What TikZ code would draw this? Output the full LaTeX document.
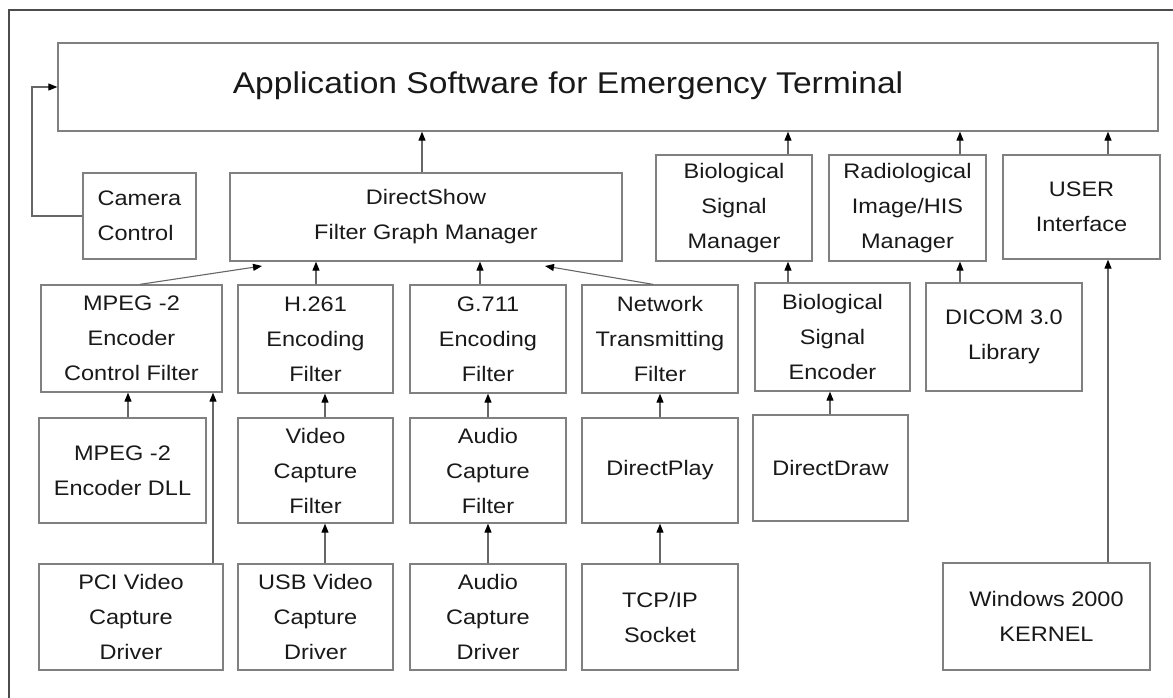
\documentclass[tikz,border=0pt]{standalone}
\usepackage{fontspec}
\setmainfont[FakeStretch=1.12]{Liberation Sans}
\usetikzlibrary{arrows.meta,calc}
\tikzset{
  box/.style={draw=black!50, line width=1.3pt, inner sep=0pt, align=center,
    font=\fontsize{21}{35}\selectfont, text=black!90},
  arr/.style={draw=black!60, line width=1.1pt, -{Triangle[length=9pt,width=7pt,color=black]}},
  frame/.style={draw=black!70, line width=1.2pt}
}
\newcommand\bx[6]{\node[box, minimum width={(#4-#2)*1pt}, minimum height={(#5-#3)*1pt}] (#1) at ({(#2+#4)/2},{(#3+#5)/2}) {#6};}
\begin{document}
\begin{tikzpicture}[x=1pt,y=-1pt]
\useasboundingbox (0,0) rectangle (1173,697);
\draw[frame] (9,700) -- (9,10) -- (1175,10);
% top
\bx{app}{58}{43}{1158}{131}{}
\node[font=\fontsize{30}{36}\selectfont, text=black!90] (apptxt) at (568,86) {Application Software for Emergency Terminal};
% row 1
\bx{cam}{83}{173}{196}{259}{\begin{tabular}{@{}l@{}}Camera\\Control\end{tabular}}
\bx{ds}{230}{173}{622}{261}{DirectShow\\Filter Graph Manager}
\bx{bsm}{656}{155}{812}{261}{Biological\\Signal\\Manager}
\bx{rad}{829}{155}{986}{261}{Radiological\\Image/HIS\\Manager}
\bx{ui}{1003}{155}{1160}{259}{USER\\Interface}
% row 2
\bx{ecf}{41}{285}{222}{392}{MPEG -2\\Encoder\\Control Filter}
\bx{h261}{238}{285}{393}{393}{H.261\\Encoding\\Filter}
\bx{g711}{410}{285}{566}{393}{G.711\\Encoding\\Filter}
\bx{ntf}{582}{285}{738}{393}{Network\\Transmitting\\Filter}
\bx{bse}{755}{283}{910}{391}{Biological\\Signal\\Encoder}
\bx{dicom}{926}{283}{1082}{391}{DICOM 3.0\\Library}
% row 3
\bx{dll}{39}{418}{206}{523}{MPEG -2\\Encoder DLL}
\bx{vcf}{238}{418}{393}{523}{Video\\Capture\\Filter}
\bx{acf}{410}{418}{566}{523}{Audio\\Capture\\Filter}
\bx{dplay}{582}{418}{738}{523}{DirectPlay}
\bx{ddraw}{753}{415}{908}{521}{DirectDraw}
% row 4
\bx{pci}{39}{564}{223}{670}{PCI Video\\Capture\\Driver}
\bx{usb}{238}{564}{393}{670}{USB Video\\Capture\\Driver}
\bx{acd}{410}{564}{566}{670}{Audio\\Capture\\Driver}
\bx{tcp}{582}{564}{738}{670}{TCP/IP\\Socket}
\bx{win}{943}{563}{1150}{670}{Windows 2000\\KERNEL}
% connectors
\coordinate (camturn1) at (32,216);
\coordinate (camturn2) at (32,87);
\draw[arr] (cam.west |- camturn1) -- (camturn1) -- (camturn2) -- (app.west |- camturn2);
\draw[arr] (ds.north -| 422,0) -- (app.south -| 422,0);
\draw[arr] (bsm.north -| 788,0) -- (app.south -| 788,0);
\draw[arr] (rad.north -| 960,0) -- (app.south -| 960,0);
\draw[arr] (ui.north -| 1108,0) -- (app.south -| 1108,0);
\coordinate (dsL) at (262,266);
\coordinate (dsR) at (545,266);
\draw[arr] (ecf.north -| 140,0) -- (dsL);
\draw[arr] (ntf.north -| 653,0) -- (dsR);
\draw[arr] (h261.north -| 316,0) -- (ds.south -| 316,0);
\draw[arr] (g711.north -| 480,0) -- (ds.south -| 480,0);
\draw[arr] (dll.north -| 128,0) -- (ecf.south -| 128,0);
\draw[arr] (pci.north -| 213,0) -- (ecf.south -| 213,0);
\draw[arr] (vcf.north -| 325,0) -- (h261.south -| 325,0);
\draw[arr] (usb.north -| 325,0) -- (vcf.south -| 325,0);
\draw[arr] (acf.north -| 488,0) -- (g711.south -| 488,0);
\draw[arr] (acd.north -| 488,0) -- (acf.south -| 488,0);
\draw[arr] (dplay.north -| 660,0) -- (ntf.south -| 660,0);
\draw[arr] (tcp.north -| 660,0) -- (dplay.south -| 660,0);
\draw[arr] (ddraw.north -| 830,0) -- (bse.south -| 830,0);
\draw[arr] (bse.north -| 788,0) -- (bsm.south -| 788,0);
\draw[arr] (dicom.north -| 960,0) -- (rad.south -| 960,0);
\draw[arr] (win.north -| 1108,0) -- (ui.south -| 1108,0);
\end{tikzpicture}
\end{document}
